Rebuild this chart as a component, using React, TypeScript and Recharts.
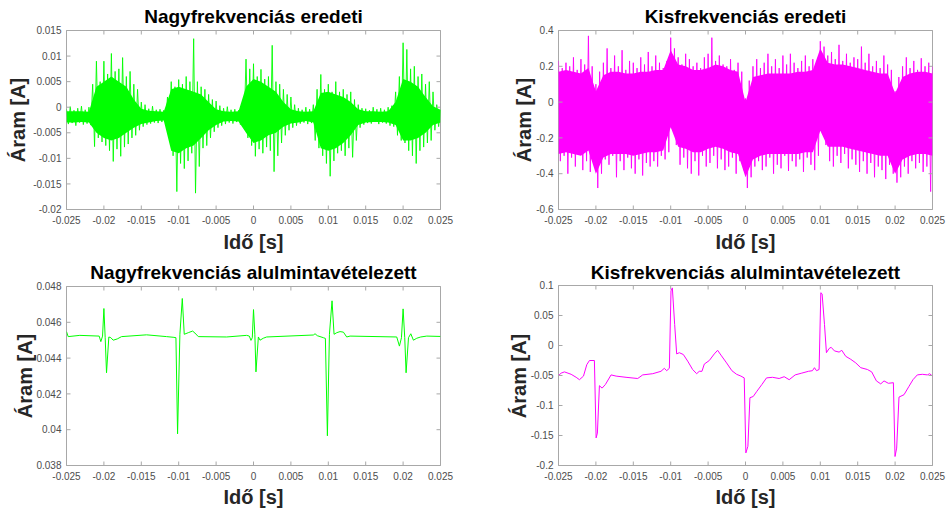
import { ComposedChart, Line, Area, XAxis, YAxis, ReferenceArea } from 'recharts';
import type { ReactNode } from 'react';

const GREEN = '#00ff00';
const MAGENTA = '#ff00ff';
const AXIS = '#a8a8a8';
const TICK_TEXT = '#4d4d4d';
const FONT = '"Liberation Sans", Arial, Helvetica, sans-serif';
const X_GAP = 7;
const Y_GAP = 5;

// shared x axis (seconds)
const timeTicks = [-0.025, -0.02, -0.015, -0.01, -0.005, 0, 0.005, 0.01, 0.015, 0.02, 0.025];
const coreStep = 0.001; // solid part of the noise band, read every 1 ms
const spikeStep = 0.00025; // outer extremes, alternating max / min, read every 0.25 ms

// --- Nagyfrekvenciás eredeti ---
const hfYTicks = [-0.02, -0.015, -0.01, -0.005, 0, 0.005, 0.01, 0.015];
const hfCoreHi = [
  -0.0008, -0.0008, -0.0008, -0.0009, 0.004, 0.005, 0.006, 0.005, 0.004, 0.0015,
  -0.0003, -0.0007, -0.0008, -0.0009, 0.0035, 0.004, 0.0035, 0.003, 0.0025, 0.001,
  -0.0004, -0.0008, -0.0009, -0.0008, 0.004, 0.0055, 0.005, 0.004, 0.003, 0.001,
  -0.0004, -0.0008, -0.0009, -0.0008, 0.0028, 0.003, 0.0025, 0.002, 0.001, -0.0004,
  -0.0008, -0.0008, -0.0009, -0.0008, 0.001, 0.0055, 0.005, 0.004, 0.002, 0.0002,
  -0.0005,
];
const hfCoreLo = [
  -0.003, -0.003, -0.0029, -0.003, -0.005, -0.006, -0.0065, -0.006, -0.005, -0.004,
  -0.0033, -0.003, -0.0027, -0.0026, -0.0085, -0.009, -0.008, -0.0075, -0.006, -0.0045,
  -0.0035, -0.0028, -0.0027, -0.0028, -0.005, -0.007, -0.0065, -0.0055, -0.005, -0.0038,
  -0.0032, -0.003, -0.0027, -0.003, -0.008, -0.0085, -0.008, -0.007, -0.0055, -0.0035,
  -0.003, -0.0029, -0.0029, -0.003, -0.0035, -0.0065, -0.0065, -0.006, -0.005, -0.0035,
  -0.003,
];
const hfSpikes = [
  -0.0004, -0.0033, 0.0001, -0.0031, -0.0006, -0.0036, -0.0002, -0.003, 0.0002, -0.0034,
  -0.0005, -0.0032, 0.0, -0.0035, 0.0045, -0.0077, 0.009, -0.006, 0.005, -0.0068,
  0.009, -0.0075, 0.0065, -0.0085, 0.0105, -0.0106, 0.007, -0.0082, 0.0075, -0.0096,
  0.0097, -0.0078, 0.006, -0.0072, 0.007, -0.006, 0.0045, -0.0055, 0.0035, -0.0045,
  0.001, -0.0038, 0.0005, -0.0034, -0.0003, -0.0032, 0.0002, -0.003, -0.0005, -0.0031,
  -0.0004, -0.0029, -0.0006, -0.003, 0.002, -0.006, 0.005, -0.0095, 0.004, -0.0165,
  0.0054, -0.011, 0.0045, -0.012, 0.006, -0.0105, 0.005, -0.009, 0.0134, -0.0168,
  0.005, -0.0116, 0.004, -0.008, 0.0035, -0.0075, 0.0025, -0.006, 0.0015, -0.0048,
  0.0012, -0.004, 0.0003, -0.0036, -0.0002, -0.0033, 0.0001, -0.003, -0.0005, -0.0032,
  -0.0004, -0.0029, -0.0006, -0.0034, 0.0, -0.0038, 0.0094, -0.006, 0.0075, -0.0075,
  0.0085, -0.0096, 0.006, -0.0082, 0.0074, -0.009, 0.0055, -0.0078, 0.006, -0.0085,
  0.0121, -0.0126, 0.005, -0.0095, 0.0045, -0.007, 0.0035, -0.0055, 0.0025, -0.0045,
  0.002, -0.004, 0.0005, -0.0036, -0.0002, -0.0032, -0.0005, -0.003, 0.0, -0.0033,
  -0.0004, -0.0031, 0.0005, -0.0065, 0.0035, -0.008, 0.0064, -0.0095, 0.0035, -0.011,
  0.0045, -0.0135, 0.003, -0.0105, 0.005, -0.009, 0.003, -0.0085, 0.0035, -0.0095,
  0.0025, -0.008, 0.003, -0.0098, 0.0015, -0.0065, 0.0005, -0.004, -0.0002, -0.0034,
  -0.0003, -0.0031, -0.0006, -0.0032, 0.0, -0.0029, -0.0004, -0.0033, -0.0002, -0.003,
  -0.0005, -0.0032, 0.0, -0.0036, 0.0003, -0.0038, 0.003, -0.0055, 0.006, -0.0065,
  0.0126, -0.007, 0.0113, -0.0085, 0.0075, -0.0095, 0.008, -0.011, 0.006, -0.0085,
  0.0065, -0.0078, 0.0045, -0.007, 0.005, -0.0065, 0.003, -0.0045, 0.0005, -0.0038,
  -0.0005,
];

// --- Kisfrekvenciás eredeti ---
const lfYTicks = [-0.6, -0.4, -0.2, 0, 0.2, 0.4];
const lfCoreHi = [
  0.17, 0.18, 0.17, 0.16, 0.19, 0.06, 0.15, 0.17, 0.17, 0.16,
  0.16, 0.17, 0.17, 0.18, 0.18, 0.29, 0.21, 0.2, 0.18, 0.18,
  0.19, 0.21, 0.2, 0.18, 0.17, 0.0, 0.14, 0.15, 0.16, 0.16,
  0.16, 0.16, 0.17, 0.17, 0.18, 0.3, 0.22, 0.21, 0.21, 0.2,
  0.19, 0.18, 0.17, 0.16, 0.16, 0.05, 0.14, 0.16, 0.17, 0.17,
  0.16,
];
const lfCoreLo = [
  -0.29, -0.28, -0.29, -0.3, -0.27, -0.4, -0.31, -0.29, -0.29, -0.29,
  -0.3, -0.29, -0.28, -0.28, -0.27, -0.14, -0.25, -0.26, -0.28, -0.28,
  -0.26, -0.25, -0.26, -0.28, -0.29, -0.42, -0.32, -0.3, -0.29, -0.29,
  -0.29, -0.29, -0.29, -0.28, -0.28, -0.16, -0.25, -0.25, -0.25, -0.26,
  -0.27, -0.28, -0.29, -0.3, -0.3, -0.4, -0.32, -0.3, -0.29, -0.29,
  -0.3,
];
const lfSpikes = [
  0.23, -0.33, 0.19, -0.3, 0.22, -0.4, 0.2, -0.31, 0.25, -0.36,
  0.18, -0.29, 0.24, -0.38, 0.21, -0.33, 0.37, -0.39, 0.2, -0.34,
  0.1, -0.48, 0.17, -0.4, 0.22, -0.32, 0.3, -0.35, 0.19, -0.3,
  0.26, -0.42, 0.2, -0.33, 0.29, -0.38, 0.18, -0.31, 0.23, -0.37,
  0.22, -0.4, 0.19, -0.32, 0.25, -0.41, 0.21, -0.34, 0.28, -0.36,
  0.2, -0.33, 0.26, -0.36, 0.22, -0.3, 0.19, -0.32, 0.23, -0.28,
  0.36, -0.15, 0.3, -0.24, 0.25, -0.35, 0.21, -0.31, 0.27, -0.37,
  0.24, -0.4, 0.2, -0.33, 0.22, -0.41, 0.19, -0.3, 0.25, -0.36,
  0.27, -0.34, 0.36, -0.3, 0.23, -0.37, 0.26, -0.32, 0.21, -0.38,
  0.2, -0.36, 0.24, -0.31, 0.18, -0.4, 0.22, -0.33, 0.17, -0.38,
  0.02, -0.48, 0.12, -0.42, 0.2, -0.36, 0.24, -0.33, 0.19, -0.38,
  0.22, -0.36, 0.27, -0.31, 0.2, -0.4, 0.24, -0.35, 0.19, -0.37,
  0.26, -0.3, 0.21, -0.385, 0.27, -0.33, 0.22, -0.36, 0.19, -0.32,
  0.23, -0.39, 0.26, -0.31, 0.2, -0.35, 0.24, -0.38, 0.21, -0.3,
  0.34, -0.16, 0.31, -0.24, 0.26, -0.33, 0.28, -0.36, 0.24, -0.3,
  0.32, -0.34, 0.23, -0.29, 0.27, -0.37, 0.22, -0.32, 0.25, -0.35,
  0.24, -0.39, 0.31, -0.33, 0.22, -0.4, 0.27, -0.34, 0.2, -0.42,
  0.23, -0.36, 0.19, -0.38, 0.26, -0.43, 0.21, -0.35, 0.18, -0.4,
  0.06, -0.45, 0.14, -0.42, 0.2, -0.36, 0.25, -0.4, 0.19, -0.33,
  0.23, -0.37, 0.18, -0.34, 0.245, -0.39, 0.2, -0.36, 0.22, -0.5,
  0.2,
];

// --- Nagyfrekvenciás alulmintavételezett ---
const hfDownYTicks = [0.038, 0.04, 0.042, 0.044, 0.046, 0.048];
const hfDownT = [
  -0.025, -0.02478, -0.02322, -0.02063, -0.02041, -0.02018, -0.02, -0.01983, -0.01965, -0.01934,
  -0.01907, -0.01876, -0.01822, -0.01764, -0.0143, -0.01162, -0.01064, -0.01037, -0.01015, -0.00984,
  -0.00952, -0.00926, -0.00872, -0.00814, -0.00783, -0.00738, -0.00359, -0.00092, -0.00056, -0.00034,
  -0.00016, 0, 0.00018, 0.00033, 0.00065, 0.00087, 0.00131, 0.00176, 0.008, 0.00823,
  0.00854, 0.00934, 0.00961, 0.00988, 0.01015, 0.0105, 0.01077, 0.01113, 0.01157, 0.01202,
  0.01246, 0.01291, 0.01915, 0.01951, 0.01978, 0.02, 0.02022, 0.0204, 0.02072, 0.02103,
  0.02138, 0.02183, 0.02236, 0.02317, 0.025,
];
const hfDownV = [
  0.04548, 0.0452, 0.04527, 0.04523, 0.04492, 0.04523, 0.04677, 0.04514, 0.04318, 0.04518,
  0.04514, 0.045, 0.04507, 0.0452, 0.0453, 0.0452, 0.04516, 0.04514, 0.03977, 0.04533,
  0.04733, 0.04533, 0.04542, 0.04551, 0.0454, 0.0452, 0.04518, 0.04527, 0.04523, 0.04499,
  0.04514, 0.04671, 0.04533, 0.04323, 0.04518, 0.045, 0.04511, 0.04518, 0.04529, 0.04536,
  0.04525, 0.04514, 0.0451, 0.03966, 0.04533, 0.0472, 0.04533, 0.04542, 0.04548, 0.04545,
  0.04518, 0.04523, 0.04518, 0.04467, 0.04514, 0.04675, 0.04514, 0.04318, 0.04514, 0.04536,
  0.045, 0.04511, 0.04518, 0.04523, 0.04521,
];

// --- Kisfrekvenciás alulmintavételezett ---
const lfDownYTicks = [-0.2, -0.15, -0.1, -0.05, 0, 0.05, 0.1];
const lfDownT = [
  -0.025, -0.02464, -0.0242, -0.02331, -0.02264, -0.0222, -0.02166, -0.02122, -0.02086, -0.0202,
  -0.01997, -0.0198, -0.01953, -0.01917, -0.01873, -0.01797, -0.0173, -0.01597, -0.01441, -0.01374,
  -0.0124, -0.0113, -0.01085, -0.01054, -0.01018, -0.00996, -0.00978, -0.00947, -0.0092, -0.00885,
  -0.00831, -0.00773, -0.00707, -0.00653, -0.00618, -0.00582, -0.00551, -0.00484, -0.00417, -0.00373,
  -0.00328, -0.00253, -0.00182, -0.00119, -0.00061, -0.00017, 0.00005, 0.00032, 0.00059, 0.00103,
  0.00148, 0.00219, 0.00281, 0.00361, 0.0045, 0.00517, 0.00584, 0.00664, 0.00753, 0.00842,
  0.00895, 0.00922, 0.00949, 0.00984, 0.01007, 0.01024, 0.01056, 0.01082, 0.01118, 0.01145,
  0.01189, 0.01251, 0.01287, 0.0134, 0.01407, 0.01474, 0.01541, 0.0163, 0.01687, 0.0175,
  0.01808, 0.01852, 0.0191, 0.01977, 0.01999, 0.02021, 0.02052, 0.02119, 0.02186, 0.02239,
  0.02297, 0.02364, 0.02431, 0.02462, 0.025,
];
const lfDownV = [
  -0.05, -0.046, -0.044, -0.048, -0.053, -0.057, -0.051, -0.032, -0.025, -0.025,
  -0.154, -0.146, -0.067, -0.071, -0.065, -0.049, -0.051, -0.053, -0.055, -0.049,
  -0.047, -0.043, -0.038, -0.042, -0.038, 0.091, 0.096, 0.035, -0.014, -0.012,
  -0.015, -0.026, -0.04, -0.047, -0.043, -0.043, -0.031, -0.025, -0.014, -0.008,
  -0.016, -0.029, -0.042, -0.048, -0.051, -0.054, -0.179, -0.168, -0.087, -0.085,
  -0.077, -0.065, -0.054, -0.053, -0.055, -0.052, -0.057, -0.049, -0.046, -0.043,
  -0.042, -0.037, -0.042, -0.04, 0.088, 0.086, 0.035, -0.012, -0.005, -0.003,
  -0.009, -0.011, -0.008, -0.018, -0.023, -0.029, -0.037, -0.04, -0.044, -0.059,
  -0.064, -0.059, -0.063, -0.062, -0.185, -0.171, -0.086, -0.082, -0.068, -0.057,
  -0.049, -0.048, -0.049, -0.047, -0.051,
];

const toBand = (hi: number[], lo: number[]) =>
  hi.map((h, i) => ({ t: -0.025 + i * coreStep, band: [lo[i], h] }));
const toSeries = (vals: number[], step: number) =>
  vals.map((v, i) => ({ t: -0.025 + i * step, v }));
const toPairs = (ts: number[], vs: number[]) => ts.map((t, i) => ({ t, v: vs[i] }));

const hfBand = toBand(hfCoreHi, hfCoreLo);
const hfSpikeData = toSeries(hfSpikes, spikeStep);
const lfBand = toBand(lfCoreHi, lfCoreLo);
const lfSpikeData = toSeries(lfSpikes, spikeStep);
const hfDownData = toPairs(hfDownT, hfDownV);
const lfDownData = toPairs(lfDownT, lfDownV);

// inward MATLAB-style ticks, mirrored on the opposite side of the box
const XTick = (props: any) => {
  const { x, y, payload, top } = props;
  const axisY = y - X_GAP;
  return (
    <g>
      <line x1={x} x2={x} y1={axisY} y2={axisY - 4} stroke={AXIS} />
      <line x1={x} x2={x} y1={top} y2={top + 4} stroke={AXIS} />
      <text x={x} y={y} dy="0.75em" textAnchor="middle" fontSize={10} fontFamily={FONT} fill={TICK_TEXT}>
        {payload.value}
      </text>
    </g>
  );
};

const YTick = (props: any) => {
  const { x, y, payload, right } = props;
  const axisX = x + Y_GAP;
  return (
    <g>
      <line x1={axisX} x2={axisX + 4} y1={y} y2={y} stroke={AXIS} />
      <line x1={right} x2={right - 4} y1={y} y2={y} stroke={AXIS} />
      <text x={x} y={y} dy="0.36em" textAnchor="end" fontSize={10} fontFamily={FONT} fill={TICK_TEXT}>
        {payload.value}
      </text>
    </g>
  );
};

interface PanelProps {
  left: number;
  top: number;
  width: number;
  height: number;
  plot: { l: number; t: number; r: number; b: number };
  yDomain: [number, number];
  yTicks: number[];
  children: ReactNode;
}

function Panel({ left, top, width, height, plot, yDomain, yTicks, children }: PanelProps) {
  const mt = plot.t - top;
  const innerRight = plot.r - left;
  return (
    <div style={{ position: 'absolute', left, top }}>
      <ComposedChart
        width={width}
        height={height}
        margin={{ top: mt, right: left + width - plot.r, bottom: 0, left: 0 }}
      >
        <XAxis
          dataKey="t"
          type="number"
          domain={[-0.025, 0.025]}
          ticks={timeTicks}
          interval={0}
          tickSize={0}
          tickMargin={X_GAP}
          axisLine={false}
          height={top + height - plot.b}
          tick={<XTick top={mt} />}
          allowDataOverflow
        />
        <YAxis
          type="number"
          domain={yDomain}
          ticks={yTicks}
          interval={0}
          tickSize={0}
          tickMargin={Y_GAP}
          axisLine={false}
          width={plot.l - left}
          tick={<YTick right={innerRight} />}
          allowDataOverflow
        />
        <ReferenceArea x1={-0.025} x2={0.025} y1={yDomain[0]} y2={yDomain[1]} fill="none" stroke={AXIS} />
        {children}
      </ComposedChart>
    </div>
  );
}

export default function App() {
  return (
    <div style={{ position: 'absolute', left: 0, top: 0, width: 947, height: 509, background: '#fff' }}>
      <Panel left={0} top={0} width={474} height={255} plot={{ l: 66.5, t: 30.5, r: 440.5, b: 209.5 }}
        yDomain={[-0.02, 0.015]} yTicks={hfYTicks}>
        <Area data={hfBand} dataKey="band" type="linear" stroke="none" fill={GREEN} fillOpacity={1}
          dot={false} activeDot={false} isAnimationActive={false} />
        <Line data={hfSpikeData} dataKey="v" type="linear" stroke={GREEN} strokeWidth={0.9}
          dot={false} activeDot={false} isAnimationActive={false} />
      </Panel>
      <Panel left={474} top={0} width={473} height={255} plot={{ l: 558.5, t: 30.5, r: 932.5, b: 209.5 }}
        yDomain={[-0.6, 0.4]} yTicks={lfYTicks}>
        <Area data={lfBand} dataKey="band" type="linear" stroke="none" fill={MAGENTA} fillOpacity={1}
          dot={false} activeDot={false} isAnimationActive={false} />
        <Line data={lfSpikeData} dataKey="v" type="linear" stroke={MAGENTA} strokeWidth={0.9}
          dot={false} activeDot={false} isAnimationActive={false} />
      </Panel>
      <Panel left={0} top={255} width={474} height={254} plot={{ l: 66.5, t: 286.5, r: 440.5, b: 465.5 }}
        yDomain={[0.038, 0.048]} yTicks={hfDownYTicks}>
        <Line data={hfDownData} dataKey="v" type="linear" stroke={GREEN} strokeWidth={1}
          dot={false} activeDot={false} isAnimationActive={false} />
      </Panel>
      <Panel left={474} top={255} width={473} height={254} plot={{ l: 558.5, t: 285.5, r: 932.5, b: 465.5 }}
        yDomain={[-0.2, 0.1]} yTicks={lfDownYTicks}>
        <Line data={lfDownData} dataKey="v" type="linear" stroke={MAGENTA} strokeWidth={1}
          dot={false} activeDot={false} isAnimationActive={false} />
      </Panel>

      <svg width={947} height={509} style={{ position: 'absolute', left: 0, top: 0, pointerEvents: 'none' }}
        fontFamily={FONT} fontWeight="bold">
        <text x={253.5} y={23} textAnchor="middle" fontSize={19} fill="#000">Nagyfrekvenciás eredeti</text>
        <text x={745.5} y={23} textAnchor="middle" fontSize={19} fill="#000">Kisfrekvenciás eredeti</text>
        <text x={253.5} y={279} textAnchor="middle" fontSize={19} fill="#000">Nagyfrekvenciás alulmintavételezett</text>
        <text x={745.5} y={279} textAnchor="middle" fontSize={19} fill="#000">Kisfrekvenciás alulmintavételezett</text>

        <text x={253.5} y={249} textAnchor="middle" fontSize={20} fill="#262626">Idő [s]</text>
        <text x={745.5} y={249} textAnchor="middle" fontSize={20} fill="#262626">Idő [s]</text>
        <text x={253.5} y={504} textAnchor="middle" fontSize={20} fill="#262626">Idő [s]</text>
        <text x={745.5} y={504} textAnchor="middle" fontSize={20} fill="#262626">Idő [s]</text>

        <text transform="translate(25,120) rotate(-90)" textAnchor="middle" fontSize={20} fill="#262626">Áram [A]</text>
        <text transform="translate(531,120) rotate(-90)" textAnchor="middle" fontSize={20} fill="#262626">Áram [A]</text>
        <text transform="translate(32,376) rotate(-90)" textAnchor="middle" fontSize={20} fill="#262626">Áram [A]</text>
        <text transform="translate(526,376) rotate(-90)" textAnchor="middle" fontSize={20} fill="#262626">Áram [A]</text>
      </svg>
    </div>
  );
}
